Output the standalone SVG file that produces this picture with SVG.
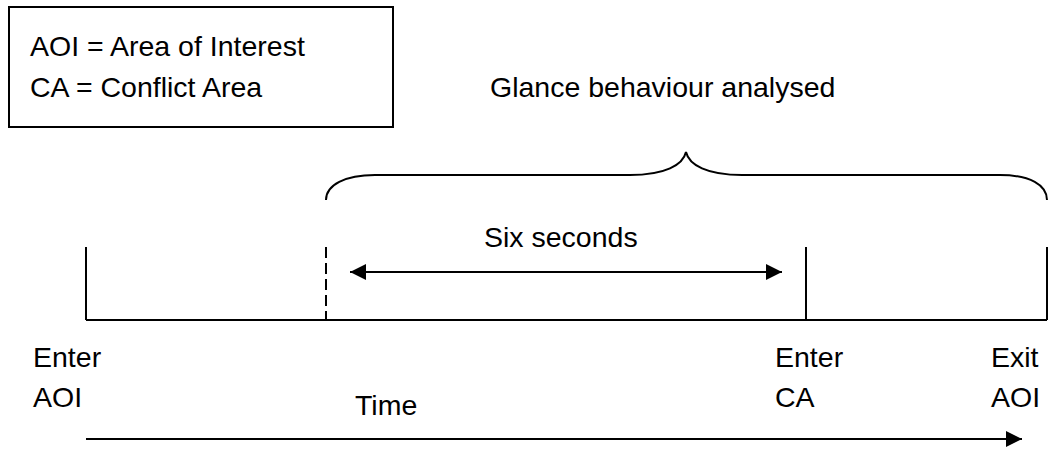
<svg xmlns="http://www.w3.org/2000/svg" width="1051" height="450" viewBox="0 0 1051 450">
<style>
text{font-family:"Liberation Sans",Arial,sans-serif;font-size:28.5px;fill:#000}
.ln{stroke:#000;stroke-width:2;fill:none}
</style>
<defs>
<marker id="ah" markerWidth="16" markerHeight="16" viewBox="0 0 16 16" refX="16" refY="8" orient="auto-start-reverse" markerUnits="userSpaceOnUse">
<path d="M0,0 L16,8 L0,16 Z" fill="#000"/>
</marker>
</defs>
<rect width="1051" height="450" fill="#fff"/>
<g id="legend">
<rect x="9" y="7" width="384" height="120" class="ln"/>
<text x="30" y="56">AOI = Area of Interest</text>
<text x="30" y="97">CA = Conflict Area</text>
</g>
<g id="glance">
<text x="490" y="97">Glance behaviour analysed</text>
<path class="ln" d="M326,200 C326,185 345,175 375,175 L630,175 C665,175 683,165 686,152 C689,165 707,175 742,175 L1000,175 C1030,175 1047,185 1047,200"/>
</g>
<g id="timeline">
<line class="ln" x1="86" y1="320" x2="1047" y2="320"/>
<line class="ln" x1="86" y1="247" x2="86" y2="320"/>
<line class="ln" x1="326" y1="247" x2="326" y2="320" stroke-dasharray="11 5"/>
<line class="ln" x1="806" y1="247" x2="806" y2="320"/>
<line class="ln" x1="1047" y1="247" x2="1047" y2="320"/>
</g>
<g id="six">
<text x="484" y="247">Six seconds</text>
<line class="ln" x1="350" y1="272" x2="782" y2="272" marker-start="url(#ah)" marker-end="url(#ah)"/>
</g>
<g id="labels">
<text x="33" y="367">Enter</text>
<text x="33" y="407">AOI</text>
<text x="775" y="367">Enter</text>
<text x="775" y="407">CA</text>
<text x="991" y="367">Exit</text>
<text x="991" y="407">AOI</text>
<text x="355" y="415">Time</text>
</g>
<g id="connectors">
<line class="ln" x1="86" y1="439" x2="1022" y2="439" marker-end="url(#ah)"/>
</g>
</svg>
